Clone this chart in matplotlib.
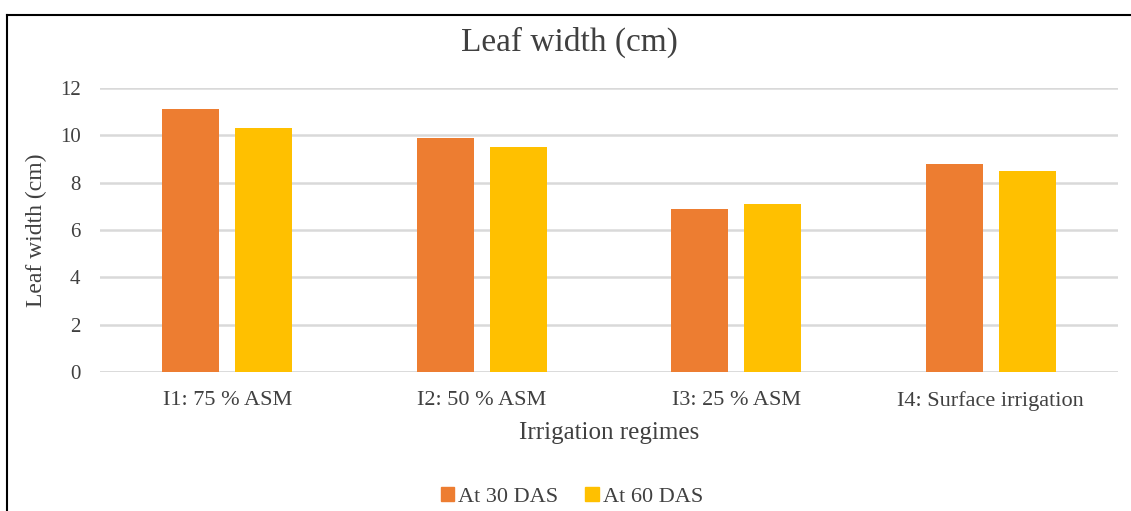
import matplotlib
matplotlib.use("Agg")
import matplotlib.pyplot as plt
import numpy as np
from matplotlib.lines import Line2D
from matplotlib.patches import Patch

categories = ["I1: 75 % ASM", "I2: 50 % ASM", "I3: 25 % ASM", "I4: Surface irrigation"]
series_names = ["At 30 DAS", "At 60 DAS"]
das30 = [11.1, 9.9, 6.9, 8.8]
das60 = [10.3, 9.5, 7.1, 8.5]
yticks = [0, 2, 4, 6, 8, 10, 12]

orange = "#ED7D31"
yellow = "#FFC000"
grid_c = "#D9D9D9"
text_c = "#404040"

plt.rcParams['font.family'] = ['Liberation Serif', 'DejaVu Serif']

fig = plt.figure(figsize=(11.31, 5.11), dpi=100)
ax = fig.add_axes([100/1131, 1-372/511, 1018/1131, (372-88)/511])

x = np.arange(len(categories))
w = 0.224
off = 0.143
ax.bar(x - off, das30, w, color=orange, zorder=3, label=series_names[0])
ax.bar(x + off, das60, w, color=yellow, zorder=3, label=series_names[1])

ax.set_xlim(-0.5, len(categories) - 0.5)
ax.set_ylim(0, 12)
ax.set_yticks(yticks)
ax.set_yticklabels([str(t) for t in yticks])
ax.set_xticks(x)
ax.set_xticklabels(categories)
ax.yaxis.grid(True, color=grid_c, linewidth=1.8, zorder=0)
ax.set_axisbelow(True)
for s in ax.spines.values():
    s.set_visible(False)
ax.axhline(0, color=grid_c, linewidth=1.8, zorder=1)
ax.tick_params(axis='y', length=0, labelsize=15, labelcolor=text_c, pad=14)
ax.tick_params(axis='x', length=0, labelsize=16, labelcolor=text_c, pad=14)

ax.set_xlabel("Irrigation regimes", fontsize=18, color=text_c, labelpad=8)
ax.set_ylabel("Leaf width (cm)", fontsize=17, color=text_c)
ax.yaxis.set_label_coords(-(100-47)/1018, 0.5)

fig.text(569/1131, 1-42/511, "Leaf width (cm)", ha='center', va='center', fontsize=24, color=text_c)

handles = [Patch(color=orange), Patch(color=yellow)]
fig.legend(handles, series_names, loc='center', bbox_to_anchor=(572/1131, 1-497/511),
           ncol=2, frameon=False, fontsize=16, labelcolor=text_c,
           handlelength=0.6, handleheight=0.6, handletextpad=0.2, columnspacing=1.2)

# outer frame (top and left edges visible)
fig.add_artist(Line2D([7/1131, 1130/1131], [1-15/511, 1-15/511], color='black', linewidth=1.5, transform=fig.transFigure))
fig.add_artist(Line2D([7/1131, 7/1131], [1-15/511, 0], color='black', linewidth=1.5, transform=fig.transFigure))

fig.savefig("out.png", dpi=100)
